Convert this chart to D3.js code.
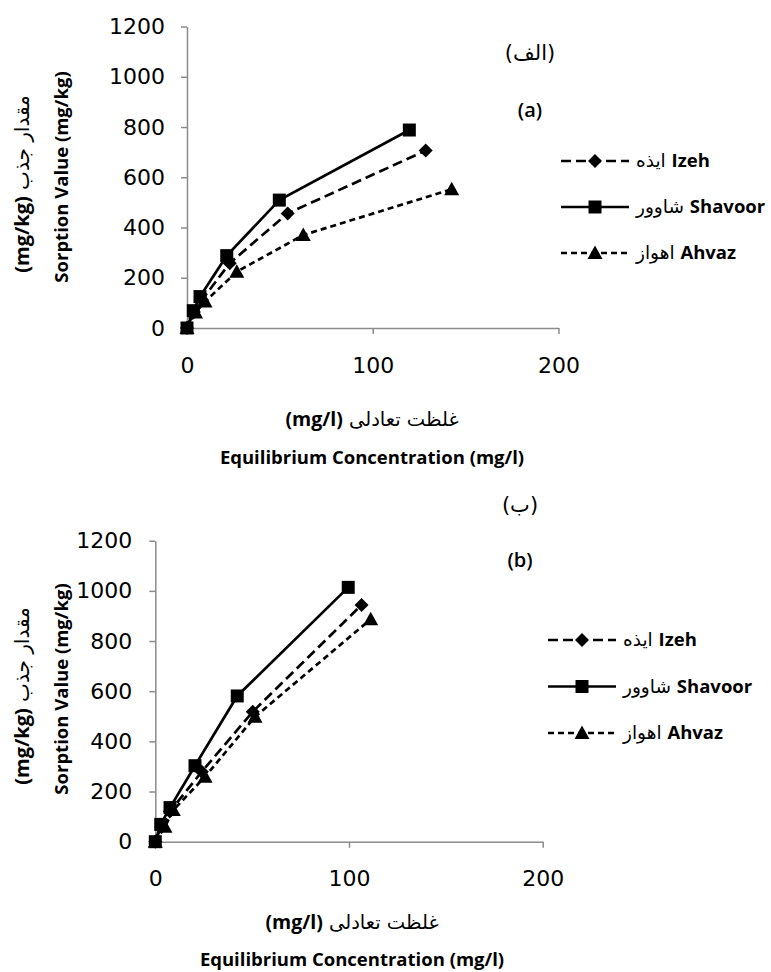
<!DOCTYPE html>
<html>
<head>
<meta charset="utf-8">
<script src="https://cdn.jsdelivr.net/npm/d3@7"></script>
<style>
  body { margin: 0; background: #fff; }
  svg { display: block; }
  .lbl { font-family: "Open Sans", "DejaVu Sans", sans-serif; font-weight: 700; fill: #000; }
  .fa { font-family: "DejaVu Sans", sans-serif; font-weight: 400; }
</style>
</head>
<body>
<svg id="chart" width="771" height="972"></svg>
<script>
// axis ticks
const xTicks = [0, 100, 200];
const yTicks = [0, 200, 400, 600, 800, 1000, 1200];

// series names
const seriesFa = ["ایذه", "شاوور", "اهواز"];
const seriesEn = ["Izeh", "Shavoor", "Ahvaz"];

// panel (a): equilibrium concentration (mg/l) and sorption (mg/kg)
const izehA_x = [0, 3.7, 8, 23, 54.2, 128.5];
const izehA_y = [0, 64, 111, 258, 456, 706];
const shavoorA_x = [0, 3.4, 7, 21.4, 49.7, 119.7];
const shavoorA_y = [0, 69, 125, 288, 509, 788];
const ahvazA_x = [0, 4.6, 9.7, 26.8, 62.6, 142.5];
const ahvazA_y = [0, 62, 105, 224, 370, 552];

// panel (b)
const izehB_x = [0, 3, 7.5, 24, 50.3, 106.5];
const izehB_y = [0, 60, 120, 279, 518, 944];
const shavoorB_x = [0, 2.8, 7.6, 20.5, 42.3, 99.6];
const shavoorB_y = [0, 69, 136, 303, 581, 1014];
const ahvazB_x = [0, 5, 9.3, 25.7, 51.5, 111.2];
const ahvazB_y = [0, 60, 126, 259, 498, 887];

const svg = d3.select("#chart");

// line style + marker per series (Izeh, Shavoor, Ahvaz)
const styles = [
  { dash: "10,5", marker: "diamond" },
  { dash: null, marker: "square" },
  { dash: "6,4", marker: "triangle" }
];

function markerPath(kind) {
  if (kind === "square") return "M-6.5,-6.5H6.5V6.5H-6.5Z";
  if (kind === "diamond") return "M0,-7L7,0L0,7L-7,0Z";
  return "M0,-7.5L7.5,6L-7.5,6Z";
}

function drawPanel(p) {
  const x = d3.scaleLinear().domain([0, 200]).range([p.x0, p.x1]);
  const y = d3.scaleLinear().domain([0, 1200]).range([p.y0, p.y1]);
  const g = svg.append("g");

  const xa = g.append("g")
    .attr("transform", `translate(0,${p.y0})`)
    .call(d3.axisBottom(x).tickValues(xTicks).tickFormat(d3.format("d"))
      .tickSize(6).tickPadding(23).tickSizeOuter(0));
  const ya = g.append("g")
    .attr("transform", `translate(${p.x0},0)`)
    .call(d3.axisLeft(y).tickValues(yTicks).tickFormat(d3.format("d"))
      .tickSize(6).tickPadding(p.yPad).tickSizeOuter(0));
  [xa, ya].forEach(a => {
    a.select(".domain").attr("stroke", "#8c8c8c").attr("stroke-width", 1.5);
    a.selectAll(".tick line").attr("stroke", "#8c8c8c").attr("stroke-width", 1.5);
    a.selectAll(".tick text")
      .attr("font-family", "DejaVu Sans, sans-serif")
      .attr("font-size", 22)
      .attr("fill", "#000");
  });

  const line = d3.line().x(d => x(d[0])).y(d => y(d[1]));
  p.series.forEach((s, i) => {
    const pts = s.x.map((v, k) => [v, s.y[k]]);
    g.append("path").datum(pts)
      .attr("d", line)
      .attr("fill", "none")
      .attr("stroke", "#000")
      .attr("stroke-width", 2.7)
      .attr("stroke-dasharray", styles[i].dash);
    g.selectAll(null).data(pts).join("path")
      .attr("d", markerPath(styles[i].marker))
      .attr("transform", d => `translate(${x(d[0])},${y(d[1])})`)
      .attr("fill", "#000");
  });

  // legend
  p.series.forEach((s, i) => {
    const ly = p.legY + i * p.legGap;
    const lg = g.append("g").attr("transform", `translate(${p.legX},${ly})`);
    lg.append("line").attr("x1", 0).attr("x2", 68).attr("y1", 0).attr("y2", 0)
      .attr("stroke", "#000").attr("stroke-width", 2.7)
      .attr("stroke-dasharray", styles[i].dash);
    lg.append("path").attr("d", markerPath(styles[i].marker))
      .attr("transform", "translate(34,0)").attr("fill", "#000");
    const t = lg.append("text").attr("class", "lbl")
      .attr("x", 75).attr("y", 0).attr("dy", "0.35em")
      .style("font-size", "18.5px");
    t.append("tspan").attr("class", "fa").text(seriesFa[i] + " ");
    t.append("tspan").text(" " + seriesEn[i]);
  });

  // panel labels
  g.append("text").attr("class", "lbl fa").attr("direction", "rtl")
    .attr("x", p.tagX).attr("y", p.tagFaY).attr("text-anchor", "middle")
    .style("font-size", "21px").text(p.tagFa);
  g.append("text").attr("class", "lbl")
    .attr("x", p.tagX).attr("y", p.tagEnY).attr("text-anchor", "middle")
    .style("font-size", "20px").style("font-weight", 600).text(p.tagEn);

  // x titles
  const xf = g.append("text").attr("class", "lbl").attr("direction", "rtl")
    .attr("x", p.xTitleX).attr("y", p.xTitleFaY).attr("text-anchor", "middle")
    .style("font-size", "19.5px");
  xf.append("tspan").attr("class", "fa").text("غلظت تعادلی ");
  xf.append("tspan").text("(mg/l)");
  g.append("text").attr("class", "lbl")
    .attr("x", p.xTitleX).attr("y", p.xTitleEnY).attr("text-anchor", "middle")
    .style("font-size", "18.5px").text("Equilibrium Concentration (mg/l)");

  // y titles
  g.append("text").attr("class", "lbl")
    .attr("transform", `translate(62,${p.yTitleCY}) rotate(-90)`)
    .attr("text-anchor", "middle").attr("dy", "0.35em")
    .style("font-size", "18.5px").text("Sorption Value (mg/kg)");
  const yf = g.append("text").attr("class", "lbl").attr("direction", "rtl")
    .attr("transform", `translate(22,${p.yTitleCY + 7}) rotate(-90)`)
    .attr("text-anchor", "middle").attr("dy", "0.35em")
    .style("font-size", "20px");
  yf.append("tspan").attr("class", "fa").text("مقدار جذب ");
  yf.append("tspan").text("(mg/kg)");
}

drawPanel({
  x0: 187, x1: 558.5, y0: 328, y1: 26.5, yPad: 16,
  series: [
    { x: izehA_x, y: izehA_y },
    { x: shavoorA_x, y: shavoorA_y },
    { x: ahvazA_x, y: ahvazA_y }
  ],
  legX: 561, legY: 161, legGap: 46,
  tagX: 530, tagFaY: 60, tagEnY: 117, tagFa: "(الف)", tagEn: "(a)",
  xTitleX: 372, xTitleFaY: 426, xTitleEnY: 464,
  yTitleCY: 177
});

drawPanel({
  x0: 155.3, x1: 542.7, y0: 841.7, y1: 540.7, yPad: 17,
  series: [
    { x: izehB_x, y: izehB_y },
    { x: shavoorB_x, y: shavoorB_y },
    { x: ahvazB_x, y: ahvazB_y }
  ],
  legX: 548, legY: 640, legGap: 46.5,
  tagX: 520, tagFaY: 512, tagEnY: 567, tagFa: "(ب)", tagEn: "(b)",
  xTitleX: 352, xTitleFaY: 929, xTitleEnY: 966,
  yTitleCY: 689
});
</script>
</body>
</html>
